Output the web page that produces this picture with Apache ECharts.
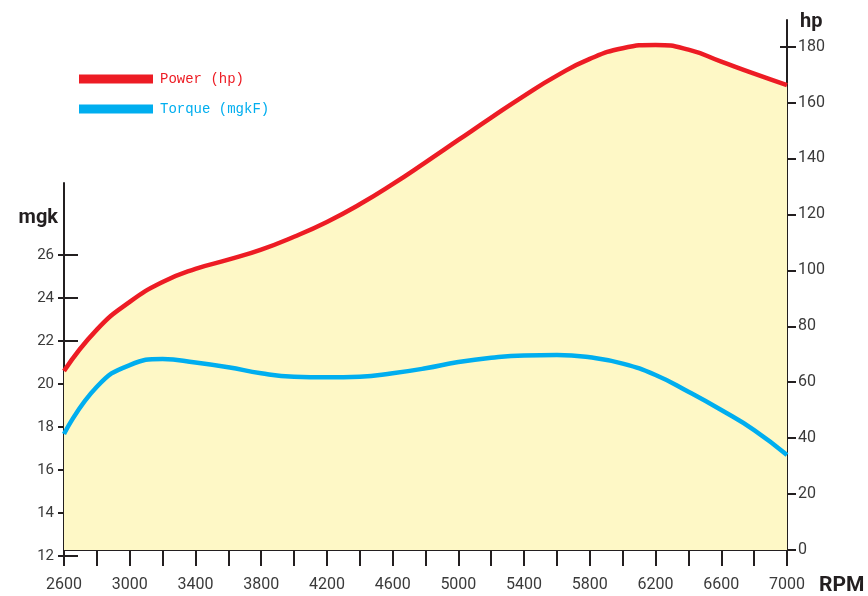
<!DOCTYPE html>
<html><head><meta charset="utf-8">
<script src="https://cdn.jsdelivr.net/npm/echarts@6/dist/echarts.min.js"></script>
<style>html,body{margin:0;padding:0;background:#fff}#c{width:868px;height:596px}</style>
</head><body><div id="c"></div>
<script>
const rpm = [2600,2800,3000,3200,3400,3600,3800,4000,4200,4400,4600,4800,5000,5200,5400,5600,5800,6000,6200,6400,6600,6800,7000];
const powerHp = [64.0,78.8,88.7,95.8,100.5,103.8,107.4,112.0,117.3,123.6,130.8,138.6,146.6,154.6,162.4,169.6,175.6,179.4,180.6,178.9,174.6,170.3,166.2];
const torqueMgk = [17.67,19.87,20.88,21.16,21.0,20.78,20.5,20.34,20.31,20.34,20.5,20.73,21.02,21.22,21.33,21.35,21.24,20.95,20.42,19.64,18.79,17.86,16.7];
const rpmLabels = [2600,3000,3400,3800,4200,4600,5000,5400,5800,6200,6600,7000];
const rpmTicks = rpm;
const mgkTicks = [12,14,16,18,20,22,24,26];
const hpTicks = [0,20,40,60,80,100,120,140,160,180];
const seriesNames = ['Power (hp)','Torque (mgkF)'];

const RED = '#ed1c24', BLUE = '#00aeef', AX = '#231f20', LBL = '#3a3a3a';
const FONT = 'Roboto, "Liberation Sans", sans-serif';
const fmt = v => String(v);

const chart = echarts.init(document.getElementById('c'), null, {renderer:'canvas'});
const G = {left:64, right:81, bottom:40};
chart.setOption({
  animation:false,
  backgroundColor:'#ffffff',
  legend:{
    orient:'vertical', left:79, top:72, padding:0, icon:'rect',
    itemWidth:74, itemHeight:9, itemGap:16,
    itemStyle:{borderWidth:0},
    textStyle:{fontFamily:'"Liberation Mono","DejaVu Sans Mono",monospace', fontSize:14, lineHeight:14, padding:[0,0,0,2]},
    data:[
      {name:seriesNames[0], textStyle:{color:RED}},
      {name:seriesNames[1], textStyle:{color:BLUE}}
    ]
  },
  grid:[
    Object.assign({top:183}, G),
    Object.assign({top:20}, G)
  ],
  xAxis:[
    {type:'value', gridIndex:0, min:2600, max:7000, show:false},
    {type:'value', gridIndex:1, min:2600, max:7000, interval:200, position:'bottom',
      name:'RPM', nameLocation:'end', nameGap:32,
      nameTextStyle:{fontFamily:FONT, fontSize:21, fontWeight:'bold', color:'#231f20', verticalAlign:'top', align:'left', padding:[25,0,0,0]},
      axisLine:{show:true, onZero:false, lineStyle:{color:AX, width:2}},
      axisTick:{show:true, inside:false, length:16, lineStyle:{color:AX, width:2}, customValues:rpmTicks},
      axisLabel:{show:true, customValues:rpmLabels, formatter:fmt, margin:27, fontFamily:FONT, fontSize:16, color:LBL},
      splitLine:{show:false}},
    {type:'value', gridIndex:1, min:2600, max:7000, interval:200, position:'bottom',
      axisLine:{show:false, onZero:false},
      axisTick:{show:true, inside:true, length:4, lineStyle:{color:AX, width:2}, customValues:rpmTicks},
      axisLabel:{show:false}, splitLine:{show:false}}
  ],
  yAxis:[
    {type:'value', gridIndex:0, position:'left', min:12, max:29.35,
      name:'mgk', nameLocation:'end', nameGap:-35,
      nameTextStyle:{fontFamily:FONT, fontSize:20, fontWeight:'bold', color:'#231f20', align:'right', verticalAlign:'middle', padding:[0,6,0,0]},
      axisLine:{show:true, onZero:false, lineStyle:{color:AX, width:2}},
      axisTick:{show:true, inside:false, length:6, lineStyle:{color:AX, width:2}, customValues:mgkTicks},
      axisLabel:{show:true, customValues:mgkTicks, formatter:fmt, margin:10, fontFamily:FONT, fontSize:15, color:LBL},
      splitLine:{show:false}},
    {type:'value', gridIndex:0, position:'left', min:12, max:29.35,
      axisLine:{show:false, onZero:false},
      axisTick:{show:true, inside:true, length:14, lineStyle:{color:AX, width:2}, customValues:mgkTicks},
      axisLabel:{show:false}, splitLine:{show:false}},
    {type:'value', gridIndex:1, position:'right', min:0, max:189.5,
      name:'hp', nameLocation:'end', nameGap:-2,
      nameTextStyle:{fontFamily:FONT, fontSize:20, fontWeight:'bold', color:'#231f20', align:'left', verticalAlign:'middle', padding:[0,0,0,13]},
      axisLine:{show:true, onZero:false, lineStyle:{color:AX, width:2}},
      axisTick:{show:true, inside:false, length:9, lineStyle:{color:AX, width:2}, customValues:hpTicks},
      axisLabel:{show:true, customValues:hpTicks, formatter:fmt, margin:11, fontFamily:FONT, fontSize:16, color:LBL},
      splitLine:{show:false}},
    {type:'value', gridIndex:1, position:'right', min:0, max:189.5,
      axisLine:{show:false, onZero:false},
      axisTick:{show:true, inside:true, length:7, lineStyle:{color:AX, width:2}, customValues:hpTicks},
      axisLabel:{show:false}, splitLine:{show:false}}
  ],
  series:[
    {name:seriesNames[0], type:'line', xAxisIndex:1, yAxisIndex:2, smooth:0.5, showSymbol:false, symbol:'none',
      color:RED, lineStyle:{color:RED, width:4.5},
      areaStyle:{color:'#fef8c6', opacity:1, origin:'start'},
      data: rpm.map((r,i)=>[r, powerHp[i]]), z:2},
    {name:seriesNames[1], type:'line', xAxisIndex:0, yAxisIndex:0, smooth:0.5, showSymbol:false, symbol:'none',
      color:BLUE, lineStyle:{color:BLUE, width:4.5},
      data: rpm.map((r,i)=>[r, torqueMgk[i]]), z:3}
  ]
});
</script></body></html>
